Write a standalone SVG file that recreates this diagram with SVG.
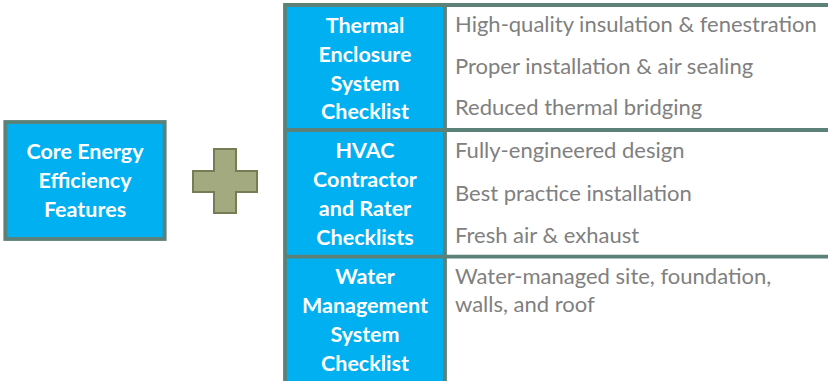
<svg xmlns="http://www.w3.org/2000/svg" width="828" height="381" viewBox="0 0 828 381">
  <style>
    .blue { fill: #00b0f0; }
    .rule { stroke: #5b8178; stroke-width: 3.8; fill: none; }
    .head { font-family: Lato, "Open Sans", sans-serif; font-weight: bold; font-size: 21.5px; fill: #ffffff; text-anchor: middle; }
    .item { font-family: Lato, "Open Sans", sans-serif; font-size: 22px; fill: #808080; }
  </style>

  <rect x="0" y="0" width="828" height="381" fill="#ffffff"/>

  <!-- core features box -->
  <g id="core">
    <rect x="5.3" y="122" width="159.4" height="117" class="blue" stroke="#5b8178" stroke-width="3.8"/>
    <text class="head" x="85" y="159">Core Energy</text>
    <text class="head" x="85" y="188">Efficiency</text>
    <text class="head" x="85" y="217">Features</text>
  </g>

  <!-- plus sign -->
  <g id="plus">
    <polygon points="214,149 236,149 236,171 257,171 257,192 236,192 236,213 214,213 214,192 193,192 193,171 214,171"
             fill="#a4aa80" stroke="#767d55" stroke-width="2"/>
  </g>

  <!-- checklist table -->
  <g id="table">
    <rect x="285" y="5" width="160" height="380" class="blue"/>
    <rect x="445" y="5" width="390" height="380" fill="#ffffff"/>
    <line class="rule" x1="285" y1="5" x2="830" y2="5"/>
    <line class="rule" x1="285" y1="3" x2="285" y2="385"/>
    <line class="rule" x1="445" y1="5" x2="445" y2="385"/>
    <line class="rule" x1="285" y1="130" x2="830" y2="130"/>
    <line class="rule" x1="285" y1="256.7" x2="830" y2="256.7"/>
  </g>

  <g id="thermal">
    <text class="head" x="365" y="33">Thermal</text>
    <text class="head" x="365" y="62">Enclosure</text>
    <text class="head" x="365" y="91">System</text>
    <text class="head" x="365" y="119">Checklist</text>
    <text class="item" x="455" y="32">High-quality insulation &amp; fenestration</text>
    <text class="item" x="455" y="74">Proper installation &amp; air sealing</text>
    <text class="item" x="455" y="115">Reduced thermal bridging</text>
  </g>

  <g id="hvac">
    <text class="head" x="365" y="158">HVAC</text>
    <text class="head" x="365" y="187">Contractor</text>
    <text class="head" x="365" y="216">and Rater</text>
    <text class="head" x="365" y="245">Checklists</text>
    <text class="item" x="455" y="158">Fully-engineered design</text>
    <text class="item" x="455" y="201">Best practice installation</text>
    <text class="item" x="455" y="243">Fresh air &amp; exhaust</text>
  </g>

  <g id="water">
    <text class="head" x="365" y="284">Water</text>
    <text class="head" x="365" y="313">Management</text>
    <text class="head" x="365" y="342">System</text>
    <text class="head" x="365" y="371">Checklist</text>
    <text class="item" x="455" y="284">Water-managed site, foundation,</text>
    <text class="item" x="455" y="312">walls, and roof</text>
  </g>
</svg>
